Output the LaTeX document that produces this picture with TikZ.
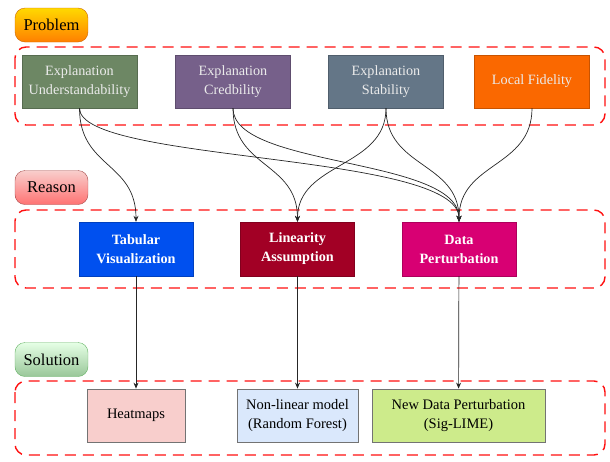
\documentclass[tikz,border=0pt]{standalone}
\usepackage{fontspec}
\setmainfont{Liberation Serif}
\usetikzlibrary{arrows.meta}

\definecolor{undgreen}{HTML}{6D8764}
\definecolor{credpurple}{HTML}{76608A}
\definecolor{stabslate}{HTML}{647687}
\definecolor{fidorange}{HTML}{FA6800}
\definecolor{tabblue}{HTML}{0050EF}
\definecolor{linred}{HTML}{A20025}
\definecolor{pertpink}{HTML}{D80073}
\definecolor{heatfill}{HTML}{F8CECC}
\definecolor{nonlinfill}{HTML}{DAE8FC}
\definecolor{newfill}{HTML}{CDEB8B}
\definecolor{groupred}{HTML}{FF1010}

\tikzset{
    labelbox/.style={draw, rounded corners=10pt, shading=axis,
        minimum width=73pt, minimum height=34pt, inner sep=0pt,
        font=\fontsize{16.5}{18}\selectfont},
    groupbox/.style={draw=groupred, line width=1.4pt, rounded corners=11pt,
        dash pattern=on 11pt off 7pt},
    probbox/.style={draw=#1!80!black, fill=#1, text=white!92!black,
        minimum width=115pt, minimum height=53pt, align=center,
        inner sep=0pt, font=\fontsize{14.2}{19}\selectfont},
    reasbox/.style={draw=#1!80!black, fill=#1, text=white,
        minimum width=114pt, minimum height=54pt, align=center,
        inner sep=0pt, font=\bfseries\fontsize{14.2}{19}\selectfont},
    solbox/.style={draw=black!55, fill=#1, line width=0.8pt,
        minimum height=53pt, align=center, inner sep=0pt,
        font=\fontsize{14.5}{19}\selectfont},
    link/.style={draw=black!85, line width=0.7pt, -{Stealth[length=6pt,width=5pt]}}
}

\begin{document}
\begin{tikzpicture}[x=1pt, y=-1pt]
    \useasboundingbox (0,0) rectangle (610,461);

    % dashed groups
    \draw[groupbox] (15,47) rectangle (605,125);
    \draw[groupbox] (15,210) rectangle (605,288);
    \draw[groupbox] (15,381) rectangle (605,455);

    % section labels
    \node[labelbox, draw=orange!80!black, top color=yellow!70!orange,
        bottom color=orange] (problem) at (51.5,25) {Problem};
    \node[labelbox, draw=red!50!black!70, top color=heatfill,
        bottom color=red!55!white] (reason) at (51.5,187.5) {Reason};
    \node[labelbox, draw=green!50!black!60, top color=green!10!white,
        bottom color=green!45!black!40!white] (solution) at (51.5,359.5) {Solution};

    % problems
    \node[probbox=undgreen] (und) at (79.5,81.5) {Explanation\\Understandability};
    \node[probbox=credpurple] (cred) at (233,81.5) {Explanation\\Credbility};
    \node[probbox=stabslate] (stab) at (386,81.5) {Explanation\\Stability};
    \node[probbox=fidorange] (fid) at (532,81.5) {Local Fidelity};

    % reasons
    \node[reasbox=tabblue] (tab) at (136,249) {Tabular\\Visualization};
    \node[reasbox=linred] (lin) at (297.5,249) {Linearity\\Assumption};
    \node[reasbox=pertpink] (pert) at (459,249) {Data\\Perturbation};

    % solutions
    \node[solbox=heatfill, minimum width=98pt] (heat) at (136,415.5) {Heatmaps};
    \node[solbox=nonlinfill, minimum width=121pt] (nonlin) at (297.5,415.5)
        {Non-linear model\\(Random Forest)};
    \node[solbox=newfill, minimum width=173pt] (newpert) at (458.5,415.5)
        {New Data Perturbation\\(Sig-LIME)};

    % problem -> reason
    \draw[link] (und.south) .. controls +(0,60) and +(0,-60) .. (tab.north);
    \draw[link] (und.south) .. controls +(0,55) and +(0,-70) .. (pert.north);
    \draw[link] (cred.south) .. controls +(0,60) and +(0,-60) .. (lin.north);
    \draw[link] (cred.south) .. controls +(0,60) and +(0,-65) .. (pert.north);
    \draw[link] (stab.south) .. controls +(0,60) and +(0,-60) .. (lin.north);
    \draw[link] (stab.south) .. controls +(0,60) and +(0,-60) .. (pert.north);
    \draw[link] (fid.south) .. controls +(0,60) and +(0,-60) .. (pert.north);

    % reason -> solution
    \draw[link] (tab) -- (heat);
    \draw[link] (lin) -- (nonlin);
    \draw[link] (pert) -- (newpert);
\end{tikzpicture}
\end{document}
